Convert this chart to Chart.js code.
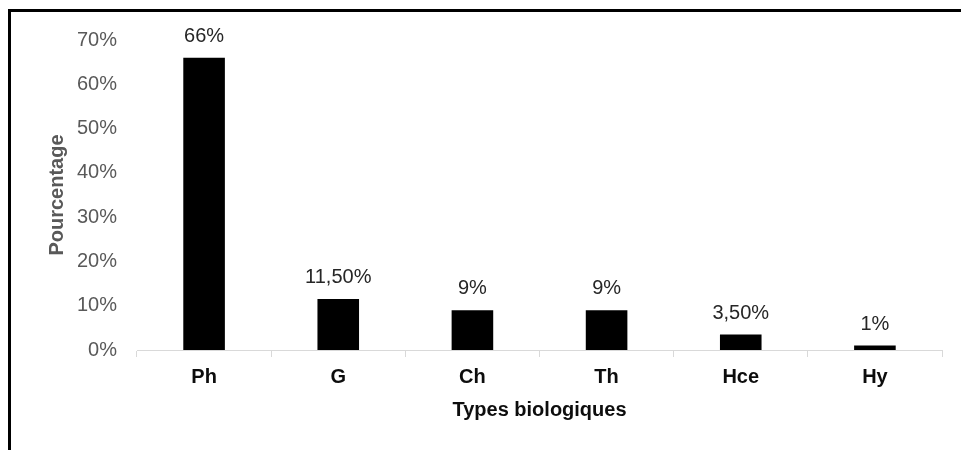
<!DOCTYPE html>
<html lang="fr">

<head>
    <meta charset="UTF-8">
    <script src="https://cdn.jsdelivr.net/npm/chart.js"></script>
    <title>Types biologiques</title>
    <style>
        body { margin: 0; background: #fff; }
        #cadre {
            position: absolute; left: 8px; top: 9px; width: 1000px; height: 500px;
            border-left: 3px solid #000; border-top: 3px solid #000;
        }
        #zone { position: absolute; left: 0; top: 0; width: 961px; height: 450px; }
    </style>
</head>

<body>
    <div id="cadre"></div>
    <div id="zone">
        <canvas id="graphique"></canvas>
    </div>
</body>

</html>

<script>
    // categories et valeurs
    const types = ['Ph', 'G', 'Ch', 'Th', 'Hce', 'Hy'];
    const pourcentages = [66, 11.5, 9, 9, 3.5, 1];
    const etiquettes = ['66%', '11,50%', '9%', '9%', '3,50%', '1%'];
    const ticksY = [0, 10, 20, 30, 40, 50, 60, 70];

    // etiquettes au-dessus des barres
    const etiquettesBarres = {
        id: 'etiquettesBarres',
        afterDatasetsDraw(chart) {
            const ctx = chart.ctx;
            const meta = chart.getDatasetMeta(0);
            ctx.save();
            ctx.font = '20px "Liberation Sans", Arial, sans-serif';
            ctx.fillStyle = '#262626';
            ctx.textAlign = 'center';
            ctx.textBaseline = 'alphabetic';
            meta.data.forEach(function (barre, i) {
                ctx.fillText(etiquettes[i], barre.x, barre.y - 16);
            });
            ctx.restore();
        }
    };

    const config = {
        type: 'bar',
        data: {
            labels: types,
            datasets: [{
                data: pourcentages,
                backgroundColor: '#000000',
                borderWidth: 0,
                categoryPercentage: 1,
                barPercentage: 0.31
            }]
        },
        options: {
            responsive: true,
            maintainAspectRatio: false,
            animation: false,
            layout: { padding: { left: 0, right: 19, top: 40, bottom: 28 } },
            plugins: {
                legend: { display: false },
                tooltip: { enabled: false }
            },
            scales: {
                x: {
                    grid: { display: true, drawOnChartArea: false, offset: true, tickLength: 7, color: '#d9d9d9' },
                    border: { display: true, color: '#d9d9d9', width: 1 },
                    ticks: {
                        padding: 8,
                        color: '#0d0d0d',
                        font: { family: '"Liberation Sans", Arial, sans-serif', size: 20, weight: 'bold' }
                    },
                    title: {
                        display: true,
                        text: 'Types biologiques',
                        color: '#0d0d0d',
                        padding: { top: 9, bottom: 0 },
                        font: { family: '"Liberation Sans", Arial, sans-serif', size: 20, weight: 'bold' }
                    },
                    afterFit: function (scale) { scale.height = 72; }
                },
                y: {
                    min: 0,
                    max: 70,
                    afterBuildTicks: function (scale) {
                        scale.ticks = ticksY.map(v => ({ value: v }));
                    },
                    grid: { display: false, drawTicks: false },
                    border: { display: false },
                    ticks: {
                        padding: 20,
                        color: '#595959',
                        font: { family: '"Liberation Sans", Arial, sans-serif', size: 20 },
                        callback: function (v) { return v + '%'; }
                    },
                    title: {
                        display: true,
                        text: 'Pourcentage',
                        color: '#595959',
                        padding: { top: 45, bottom: 0 },
                        font: { family: '"Liberation Sans", Arial, sans-serif', size: 20, weight: 'bold' }
                    },
                    afterFit: function (scale) { scale.width = 137; }
                }
            }
        },
        plugins: [etiquettesBarres]
    };

    new Chart(document.getElementById('graphique'), config);
</script>
